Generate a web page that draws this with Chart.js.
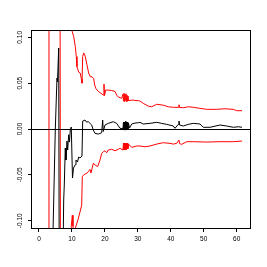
<!DOCTYPE html>
<html>
<head>
<meta charset="utf-8">
<script src="https://cdn.jsdelivr.net/npm/chart.js@4/dist/chart.umd.min.js"></script>
<style>
  html, body { margin: 0; padding: 0; background: #fff; }
  canvas { display: block; }
</style>
</head>
<body>
<canvas id="chart" width="267" height="267"></canvas>
<script>
  // estimate (black)
  const estX = [
    3.79, 4.95, 5.46, 5.61, 5.98, 6.16, 7.13, 7.5, 7.68, 7.98, 8.19, 8.5, 8.71,
    9.01, 9.26, 9.5, 9.8, 10.17, 10.47, 11.02, 11.23, 11.68, 12.05, 12.44,
    13.05, 13.26, 13.96, 14.42, 14.96, 15.99, 16.48, 17.0, 18.0, 19.03, 19.33,
    19.51, 20.03, 21.03, 22.55, 23.58, 24.58, 25.49, 25.64, 25.8, 25.95, 26.1,
    26.25, 26.4, 26.56, 26.71, 26.86, 27.01, 27.16, 27.47, 28.13, 29.14, 30.14,
    30.65, 31.65, 33.69, 35.72, 37.24, 38.76, 40.76, 41.27, 42.28, 42.49, 42.64,
    43.79, 45.31, 46.83, 48.86, 49.86, 51.9, 54.93, 56.97, 58.97, 60.49, 61.61,
  ];
  const estY = [
    -0.186, -0.001, 0.0556, 0.0513, 0.0883, -0.186, -0.186, -0.0774, -0.061,
    -0.0207, -0.0338, -0.0131, -0.0229, -0.0062, -0.0142, -0.0008, 0.0022,
    -0.0534, -0.0425, -0.0389, -0.0338, -0.036, -0.0305, -0.0316, -0.0294,
    0.0087, 0.0098, 0.0076, 0.008, 0.0044, -0.0011, -0.0047, -0.0055, -0.004,
    0.0098, -0.0027, 0.0044, 0.0062, 0.008, 0.0062, 0.0008, 0.0005, 0.0076,
    -0.0011, 0.0076, -0.0011, 0.0082, -0.0011, 0.0076, -0.0005, 0.0071, 0.0,
    0.0065, 0.0011, 0.0055, 0.0065, 0.0069, 0.0073, 0.0055, 0.0062, 0.0073,
    0.0062, 0.0051, 0.0033, 0.0008, 0.0051, 0.0087, 0.0044, 0.0033, 0.0051,
    0.0062, 0.0055, 0.0019, 0.0019, 0.0044, 0.0033, 0.0019, 0.0025, 0.0019,
  ];

  // upper band (red)
  const upX = [
    2.85, 3.03, 9.71, 10.02, 10.53, 11.02, 11.32, 11.53, 12.05, 12.53, 12.84,
    13.05, 13.26, 13.57, 13.87, 14.05, 14.57, 15.08, 15.57, 16.09, 16.6, 16.9,
    17.3, 18.0, 18.82, 19.51, 19.73, 19.88, 20.24, 21.03, 22.06, 23.07, 23.58,
    24.07, 25.1, 25.49, 25.64, 25.8, 25.95, 26.1, 26.25, 26.4, 26.56, 26.71,
    26.86, 27.01, 27.16, 28.13, 28.62, 29.44, 30.14, 30.65, 31.65, 33.17, 34.2,
    35.72, 37.72, 39.24, 40.76, 42.28, 42.49, 42.64, 43.79, 45.31, 46.83, 48.86,
    50.9, 53.93, 56.45, 58.97, 60.0, 61.61,
  ];
  const upY = [
    -0.296, 0.25, 0.25, 0.107, 0.101, 0.09, 0.079, 0.068, 0.062, 0.061, 0.055,
    0.05, 0.079, 0.083, 0.081, 0.079, 0.07, 0.061, 0.057, 0.057, 0.055, 0.048,
    0.044, 0.041, 0.039, 0.037, 0.049, 0.0365, 0.0425, 0.0425, 0.042, 0.041,
    0.037, 0.035, 0.0335, 0.038, 0.0305, 0.039, 0.03, 0.038, 0.0315, 0.0385,
    0.03, 0.037, 0.0305, 0.036, 0.031, 0.0315, 0.0315, 0.031, 0.031, 0.0305,
    0.028, 0.025, 0.0243, 0.027, 0.026, 0.0243, 0.0237, 0.0237, 0.0265, 0.0235,
    0.0232, 0.0243, 0.0237, 0.0226, 0.0215, 0.0215, 0.0221, 0.0215, 0.02, 0.02,
  ];

  // lower band (red)
  const loX = [
    6.37, 6.56, 9.56, 9.8, 10.11, 10.32, 10.47, 11.02, 11.84, 12.44, 12.96,
    13.14, 13.57, 14.57, 14.96, 15.48, 15.78, 16.48, 17.0, 17.81, 18.51, 19.03,
    19.51, 20.03, 20.55, 21.03, 22.06, 23.07, 24.07, 24.58, 25.49, 25.64, 25.8,
    25.95, 26.1, 26.25, 26.4, 26.56, 26.71, 26.86, 27.01, 27.16, 28.13, 29.65,
    30.65, 32.17, 33.69, 35.72, 37.72, 39.76, 40.76, 41.79, 42.49, 42.64, 43.31,
    44.83, 46.83, 50.9, 54.93, 58.97, 61.61,
  ];
  const loY = [
    0.25, -0.296, -0.186, -0.106, -0.094, -0.106, -0.143, -0.108, -0.099,
    -0.0905, -0.083, -0.052, -0.05, -0.048, -0.0466, -0.044, -0.048, -0.0374,
    -0.039, -0.041, -0.0338, -0.0265, -0.0248, -0.0237, -0.0258, -0.0229,
    -0.0221, -0.0237, -0.0221, -0.021, -0.0229, -0.0153, -0.0229, -0.0153,
    -0.0224, -0.0158, -0.0229, -0.0153, -0.0218, -0.0158, -0.0213, -0.0164,
    -0.02, -0.0185, -0.0185, -0.0193, -0.0185, -0.0164, -0.0149, -0.0156,
    -0.0164, -0.0156, -0.012, -0.0158, -0.0167, -0.0138, -0.0138, -0.0142,
    -0.0138, -0.0138, -0.0131,
  ];

  const xTicks = [0, 10, 20, 30, 40, 50, 60];
  const yTicks = [-0.1, -0.05, 0, 0.05, 0.1];
  const yTickLabels = ["-0.10", "-0.05", "0.00", "0.05", "0.10"];

  const toPoints = (xs, ys) => xs.map((x, i) => ({ x: x, y: ys[i] }));

  const labelFont = "6.5px 'Liberation Sans', Arial, sans-serif";

  // box, zero line and rotated y labels, R style
  const framePlugin = {
    id: "framePlugin",
    afterDatasetsDraw(chart) {
      const { ctx, chartArea, scales } = chart;
      const y0 = Math.round(scales.y.getPixelForValue(0)) + 0.5;
      ctx.save();
      ctx.strokeStyle = "#000";
      ctx.lineWidth = 1;
      ctx.beginPath();
      ctx.moveTo(chartArea.left, y0);
      ctx.lineTo(chartArea.right, y0);
      ctx.stroke();
      ctx.strokeRect(
        chartArea.left - 0.5,
        chartArea.top - 0.5,
        chartArea.right - chartArea.left + 1,
        chartArea.bottom - chartArea.top + 1
      );
      ctx.fillStyle = "#000";
      ctx.font = labelFont;
      ctx.textAlign = "center";
      ctx.textBaseline = "middle";
      yTicks.forEach((v, i) => {
        const py = scales.y.getPixelForValue(v);
        ctx.save();
        ctx.translate(20, py);
        ctx.rotate(-Math.PI / 2);
        ctx.fillText(yTickLabels[i], 0, 0);
        ctx.restore();
      });
      ctx.restore();
    },
  };

  const ctx = document.getElementById("chart").getContext("2d");
  new Chart(ctx, {
    type: "line",
    data: {
      datasets: [
        {
          label: "estimate",
          data: toPoints(estX, estY),
          borderColor: "#000000",
        },
        {
          label: "upper",
          data: toPoints(upX, upY),
          borderColor: "#ff0000",
        },
        {
          label: "lower",
          data: toPoints(loX, loY),
          borderColor: "#ff0000",
        },
      ],
    },
    options: {
      responsive: false,
      animation: false,
      layout: {
        padding: { top: 31, right: 17, left: 0, bottom: 0 },
      },
      elements: {
        line: { borderWidth: 1, tension: 0, fill: false },
        point: { radius: 0 },
      },
      plugins: {
        legend: { display: false },
        tooltip: { enabled: false },
      },
      scales: {
        x: {
          type: "linear",
          min: -2.12,
          max: 64.04,
          afterBuildTicks: (scale) => {
            scale.ticks = xTicks.map((v) => ({ value: v }));
          },
          afterFit: (scale) => {
            scale.height = 39;
          },
          border: { display: false },
          grid: {
            drawOnChartArea: false,
            color: "#000",
            tickLength: 4,
          },
          ticks: {
            autoSkip: false,
            maxRotation: 0,
            padding: 3,
            color: "#000",
            font: { size: 6.5, family: "'Liberation Sans', Arial, sans-serif" },
            callback: (v) => String(v),
          },
        },
        y: {
          type: "linear",
          min: -0.1079,
          max: 0.1069,
          afterBuildTicks: (scale) => {
            scale.ticks = yTicks.map((v) => ({ value: v }));
          },
          afterFit: (scale) => {
            scale.width = 32;
          },
          border: { display: false },
          grid: {
            drawOnChartArea: false,
            color: "#000",
            tickLength: 4,
          },
          ticks: {
            display: false,
          },
        },
      },
    },
    plugins: [framePlugin],
  });
</script>
</body>
</html>
